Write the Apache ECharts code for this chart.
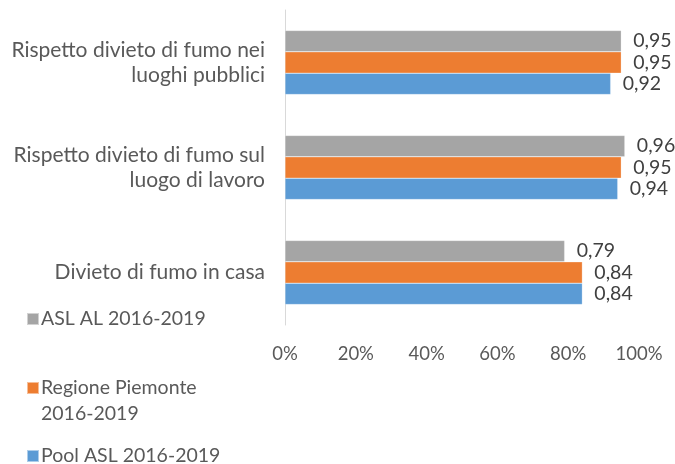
<!DOCTYPE html>
<html><head><meta charset="utf-8">
<script src="https://cdn.jsdelivr.net/npm/echarts@6/dist/echarts.min.js"></script>
<style>html,body{margin:0;padding:0;background:#fff}#c{width:675px;height:464px}</style>
</head><body><div id="c"></div>
<script>
const categories = ['Divieto di fumo in casa', 'Rispetto divieto di fumo sul\nluogo di lavoro', 'Rispetto divieto di fumo nei\nluoghi pubblici'];
const seriesNames = ['ASL AL 2016-2019', 'Regione Piemonte 2016-2019', 'Pool ASL 2016-2019'];
const aslAL = [0.79, 0.96, 0.95];
const regionePiemonte = [0.84, 0.95, 0.95];
const poolASL = [0.84, 0.94, 0.92];
const colors = ['#A5A5A5', '#ED7D31', '#5B9BD5'];
const xTicks = [0, 0.2, 0.4, 0.6, 0.8, 1];

const FONT = 'Lato';
const values = [aslAL, regionePiemonte, poolASL];
const chart = echarts.init(document.getElementById('c'), null, {renderer: 'canvas'});
const legendTops = [306, 375, 443];
chart.setOption({
  animation: false,
  textStyle: {fontFamily: FONT},
  grid: {left: 285, right: 36, top: 10, bottom: 139, containLabel: false},
  xAxis: {
    type: 'value', min: xTicks[0], max: xTicks[xTicks.length - 1], interval: 0.2,
    axisLine: {show: false}, axisTick: {show: false}, splitLine: {show: false},
    axisLabel: {color: '#595959', fontSize: 18.5, fontFamily: FONT, margin: 20,
      formatter: v => Math.round(v * 100) + '%'}
  },
  yAxis: {
    type: 'category', data: categories,
    axisLine: {show: true, lineStyle: {color: '#D9D9D9', width: 1}},
    axisTick: {show: false},
    axisLabel: {color: '#595959', fontSize: 21, fontFamily: FONT, margin: 20, lineHeight: 25, align: 'right',
      padding: [10, 0, 0, 0], backgroundColor: 'rgba(255,255,255,0)'}
  },
  legend: seriesNames.map((n, i) => {
    const two = n === 'Regione Piemonte 2016-2019';
    return {
      orient: 'vertical', left: 26, top: legendTops[i], padding: 0,
      data: [n], itemWidth: 12, itemHeight: two ? 38 : 12, itemGap: 0,
      icon: two ? 'path://M0,0h12v12h-12z M0,38h0.01v0.01h-0.01z' : 'rect',
      selectedMode: false,
      formatter: name => two ? 'Regione Piemonte\n2016-2019' : name,
      textStyle: {color: '#595959', fontSize: 19.5, fontFamily: FONT, lineHeight: 26, padding: [0, 0, 0, -3]}
    };
  }),
  series: seriesNames.map((n, i) => ({
    name: n, type: 'bar', data: values[i],
    barCategoryGap: '39%', barGap: '0%',
    itemStyle: {color: colors[i], borderColor: 'rgba(255,255,255,0.5)', borderWidth: 0.5},
    label: {show: true, position: 'right', distance: 12, color: '#404040', fontSize: 19.5, fontFamily: FONT,
      formatter: p => p.value.toFixed(2).replace('.', ',')}
  }))
});
</script></body></html>
